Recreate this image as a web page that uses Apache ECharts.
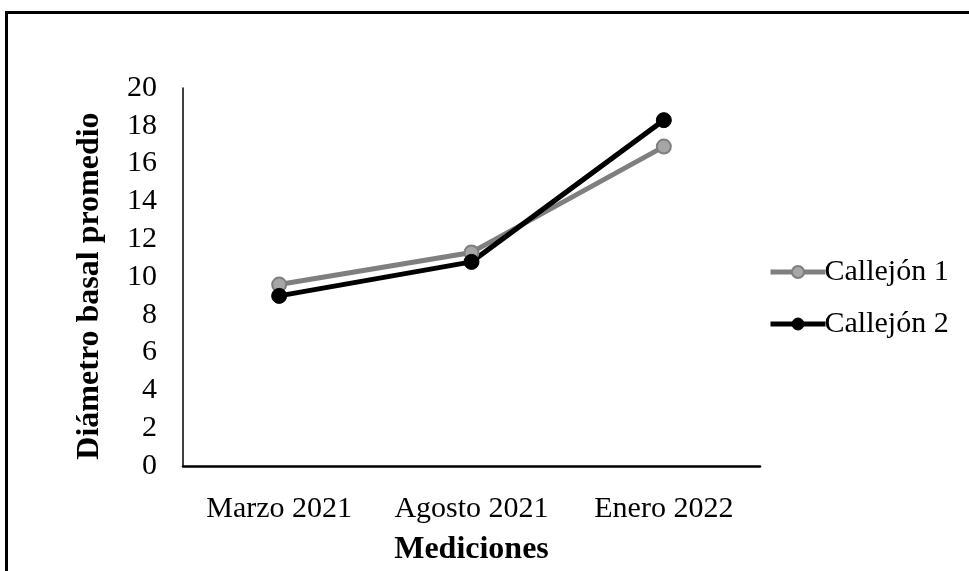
<!DOCTYPE html>
<html>
<head>
<meta charset="utf-8">
<script src="https://cdn.jsdelivr.net/npm/echarts@6/dist/echarts.min.js"></script>
<style>
  html, body { margin: 0; padding: 0; background: #fff; }
  #wrap { position: relative; width: 969px; height: 571px; overflow: hidden; }
  #chart { position: absolute; left: 0; top: 0; width: 969px; height: 571px; }
  #frame { position: absolute; left: 5px; top: 11px; width: 1000px; height: 600px;
           border-left: 3px solid #000; border-top: 3px solid #000; pointer-events: none; }
</style>
</head>
<body>
<div id="wrap">
  <div id="chart"></div>
  <div id="frame"></div>
</div>
<script>
const categories = ['Marzo 2021', 'Agosto 2021', 'Enero 2022'];
const callejon1 = [9.6, 11.3, 16.9];
const callejon2 = [9.0, 10.8, 18.3];
const seriesNames = ['Callejón 1', 'Callejón 2'];
const xTitle = 'Mediciones';
const yTitle = 'Diámetro basal promedio';

const FONT = '"Liberation Serif", "Times New Roman", serif';
const chart = echarts.init(document.getElementById('chart'), null, { renderer: 'canvas' });
chart.setOption({
  animation: false,
  backgroundColor: '#fff',
  textStyle: { fontFamily: FONT, color: '#000' },
  grid: { left: 183, right: 209, top: 88, bottom: 101, containLabel: false },
  legend: {
    orient: 'vertical',
    left: 763,
    top: 252,
    itemWidth: 55,
    itemHeight: 15,
    itemGap: 22,
    textStyle: { fontFamily: FONT, fontSize: 30, color: '#000', padding: [0, 0, 0, -6] },
    data: [
      { name: seriesNames[0], lineStyle: { width: 5, color: '#7f7f7f' },
        itemStyle: { color: '#a6a6a6', borderColor: '#7f7f7f', borderWidth: 2 } },
      { name: seriesNames[1], lineStyle: { width: 5, color: '#000' },
        itemStyle: { color: '#000', borderColor: '#000', borderWidth: 1 } }
    ]
  },
  xAxis: {
    type: 'category',
    data: categories,
    boundaryGap: true,
    name: xTitle,
    nameLocation: 'middle',
    nameGap: 68,
    nameTextStyle: { fontFamily: FONT, fontSize: 32, fontWeight: 'bold', color: '#000' },
    axisLine: { lineStyle: { color: '#000', width: 2.5 } },
    axisTick: { show: false },
    axisLabel: { fontFamily: FONT, fontSize: 30, color: '#000', margin: 28, interval: 0, hideOverlap: false },
    splitLine: { show: false }
  },
  yAxis: {
    type: 'value',
    min: 0,
    max: 20,
    interval: 2,
    name: yTitle,
    nameLocation: 'middle',
    nameGap: 77,
    nameTextStyle: { fontFamily: FONT, fontSize: 32, fontWeight: 'bold', color: '#000', padding: [0, 18, 0, 0] },
    axisLine: { show: true, lineStyle: { color: '#000', width: 1.5 } },
    axisTick: { show: false },
    axisLabel: { fontFamily: FONT, fontSize: 30, color: '#000', margin: 26 },
    splitLine: { show: false }
  },
  series: [
    {
      name: seriesNames[0],
      type: 'line',
      data: callejon1,
      symbol: 'circle',
      symbolSize: 14,
      lineStyle: { color: '#7f7f7f', width: 5 },
      itemStyle: { color: '#a6a6a6', borderColor: '#7f7f7f', borderWidth: 2 }
    },
    {
      name: seriesNames[1],
      type: 'line',
      data: callejon2,
      symbol: 'circle',
      symbolSize: 15,
      lineStyle: { color: '#000', width: 5 },
      itemStyle: { color: '#000', borderColor: '#000', borderWidth: 1 }
    }
  ]
});
</script>
</body>
</html>
